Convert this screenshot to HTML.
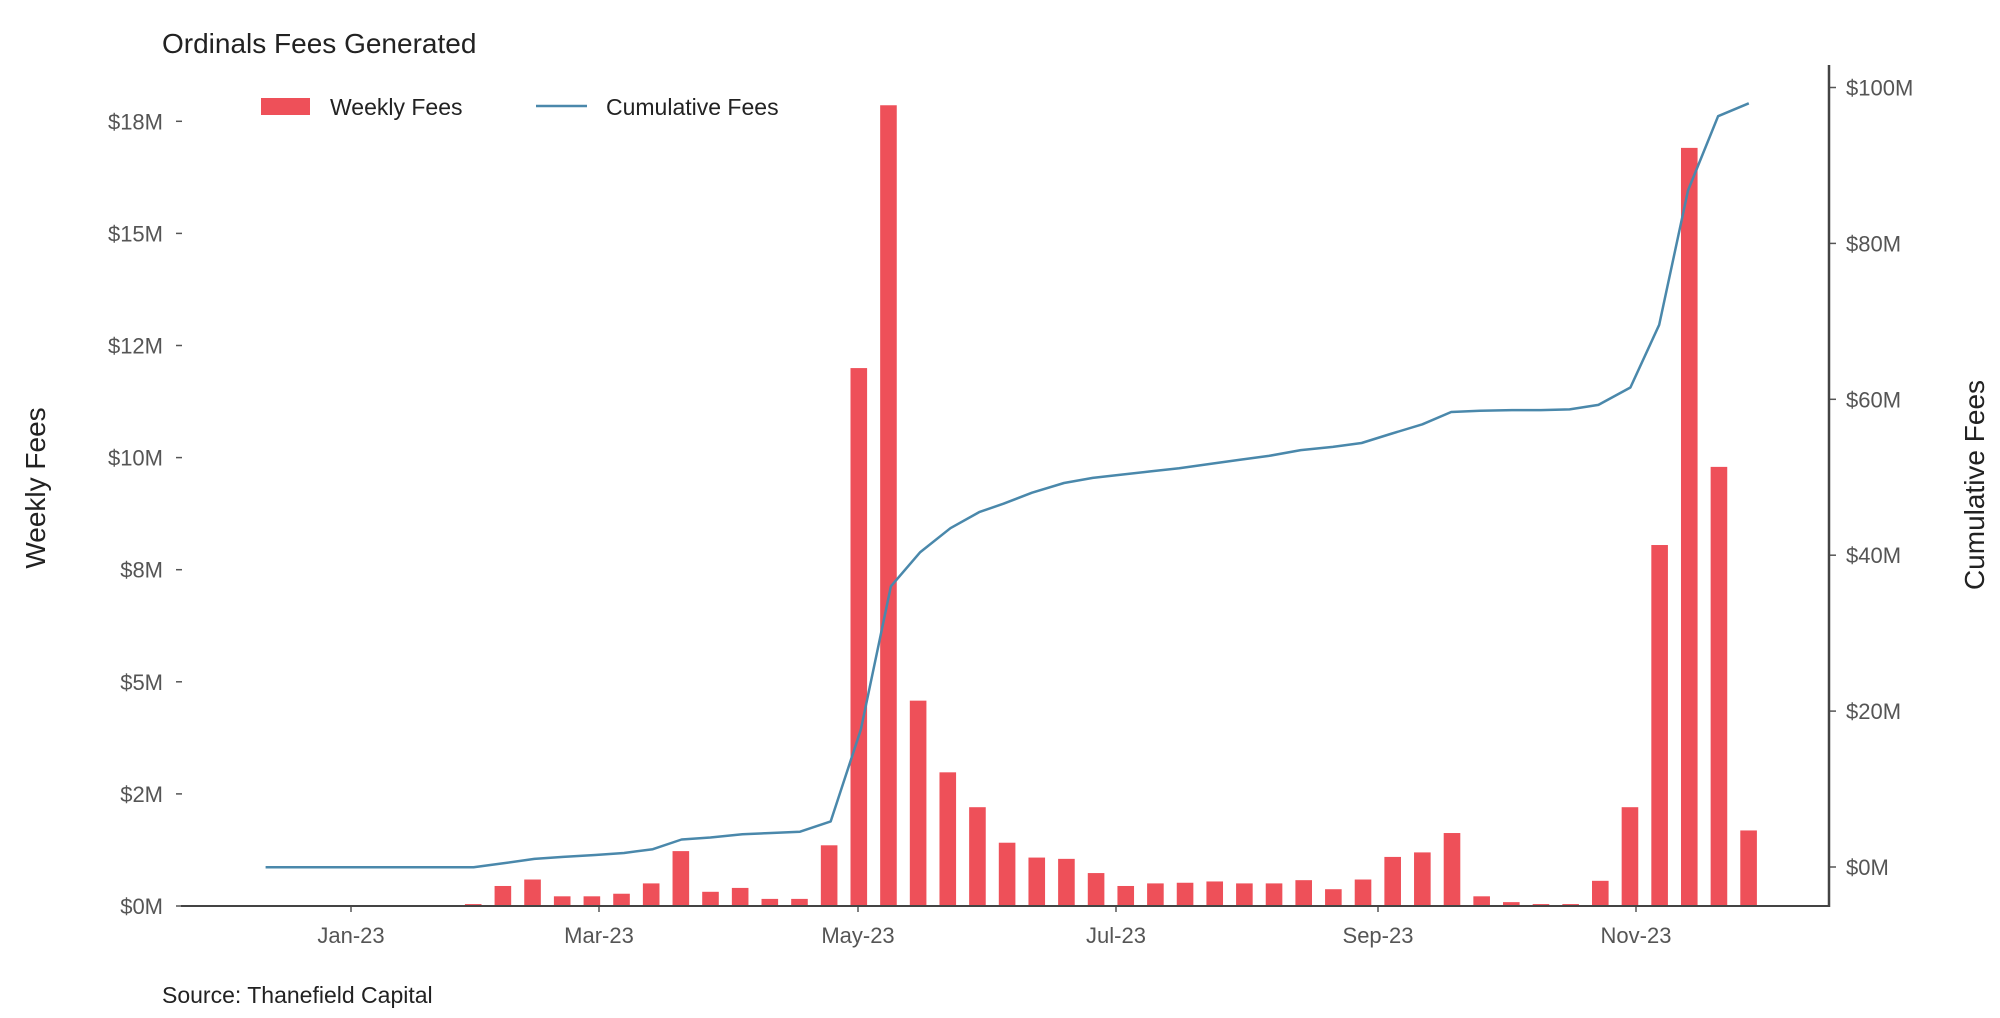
<!DOCTYPE html>
<html><head><meta charset="utf-8"><style>
body{margin:0;background:#fff;}
svg text{font-family:"Liberation Sans",sans-serif;}
</style></head><body>
<svg id="s" width="2000" height="1013" xmlns="http://www.w3.org/2000/svg">
<text x="162" y="53" font-size="28" fill="#222">Ordinals Fees Generated</text>
<rect x="261" y="98" width="49" height="17" fill="#ee5059"/>
<text x="330" y="115" font-size="23" fill="#222">Weekly Fees</text>
<line x1="536" y1="106" x2="587" y2="106" stroke="#4a88ab" stroke-width="2.5"/>
<text x="606" y="115" font-size="23" fill="#222">Cumulative Fees</text>
<text transform="translate(45,488) rotate(-90)" text-anchor="middle" font-size="28" fill="#222">Weekly Fees</text>
<text transform="translate(1984,485) rotate(-90)" text-anchor="middle" font-size="28" fill="#222">Cumulative Fees</text>
<text x="162" y="1003" font-size="23" fill="#222">Source: Thanefield Capital</text>
<g id="g"></g>
<line x1="181" y1="906" x2="1829" y2="906" stroke="#444" stroke-width="2"/>
<line x1="1829" y1="65" x2="1829" y2="907" stroke="#444" stroke-width="2.5"/>
</svg>
<script>
var g=document.getElementById('g'),NS='http://www.w3.org/2000/svg',h='';
var lt=['$0M','$2M','$5M','$8M','$10M','$12M','$15M','$18M'];
for(var k=0;k<8;k++){var y=906-k*112.1;h+='<text x="163" y="'+(y+8)+'" text-anchor="end" font-size="22" fill="#555">'+lt[k]+'</text><line x1="176" y1="'+y+'" x2="182" y2="'+y+'" stroke="#555" stroke-width="1.5"/>';}
for(var k=0;k<6;k++){var y=867-k*155.9;h+='<text x="1846" y="'+(y+8)+'" font-size="22" fill="#555">$'+(k*20)+'M</text><line x1="1829" y1="'+y+'" x2="1836" y2="'+y+'" stroke="#555" stroke-width="1.5"/>';}
var xl=[['Jan-23',351],['Mar-23',599],['May-23',858],['Jul-23',1116],['Sep-23',1378],['Nov-23',1636]];
xl.forEach(function(a){h+='<line x1="'+a[1]+'" y1="906" x2="'+a[1]+'" y2="912" stroke="#555" stroke-width="1.5"/><text x="'+a[1]+'" y="943" text-anchor="middle" font-size="22" fill="#555">'+a[0]+'</text>';});
var bt=[1403,1403,1403,1403,1403,1403,1403,1400,1372,1362,1388,1388,1384,1368,1318,1381,1375,1392,1392,1309,570,163,1085,1196,1250,1305,1328,1330,1352,1372,1368,1367,1365,1368,1368,1363,1377,1362,1327,1320,1290,1388,1397,1400,1400,1364,1250,844,229,723,1286];
var sx=29.66,x0=265.6,sy=906/1403;
for(var i=0;i<bt.length;i++){var t=bt[i]*sy;if(906-t<0.5)continue;h+='<rect x="'+(x0+i*sx-8.3)+'" y="'+t+'" width="16.6" height="'+(906-t)+'" fill="#ee5059"/>';}
var lp=[[415,1343],[740,1343],[785,1337],[835,1330],[880,1327],[930,1324],[975,1321],[1020,1315],[1065,1300],[1110,1297],[1160,1292],[1205,1290],[1250,1288],[1298,1272],[1345,1130],[1392,908],[1438,855],[1485,818],[1530,793],[1568,780]];
var l2=[[50,763],[100,748],[145,740],[190,735],[235,730],[280,725],[330,718],[375,712],[420,706],[470,697],[520,692],[565,686],[610,672],[660,657],[705,638],[750,636],[800,635],[845,635],[890,634],[935,627],[985,600],[1030,503],[1075,295],[1122,180],[1170,160]];
var pts=lp.map(function(p){return (p[0]/1.5625).toFixed(1)+','+(p[1]*sy).toFixed(1);}).concat(l2.map(function(p){return (1000+p[0]/1.5625).toFixed(1)+','+(p[1]*sy).toFixed(1);}));
h+='<polyline points="'+pts.join(' ')+'" fill="none" stroke="#4a88ab" stroke-width="2.5" stroke-linejoin="round"/>';
g.innerHTML=h;
</script>
</body></html>
